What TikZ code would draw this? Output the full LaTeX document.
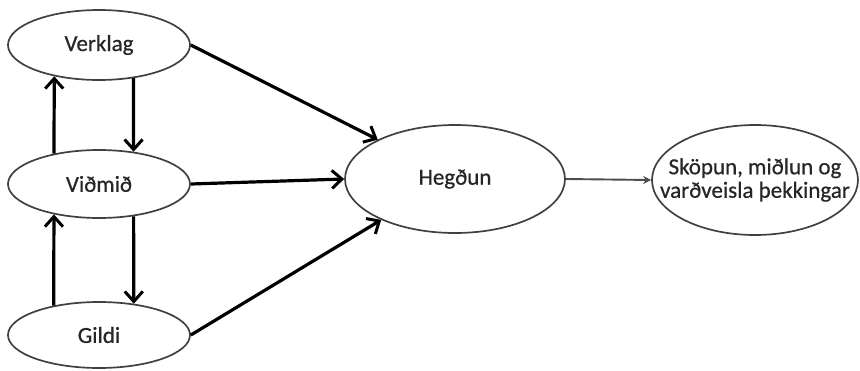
\documentclass[tikz,border=0pt]{standalone}
\usepackage{fontspec}
\setmainfont{Carlito}[FakeBold=0.6]
\usetikzlibrary{shapes.geometric,arrows.meta}

\begin{document}
\begin{tikzpicture}[x=1pt,y=-1pt,
  oval/.style={ellipse,draw=black!75,line width=1.7pt,inner sep=0pt,
    minimum width=2*#1,font=\fontsize{23}{23.5}\selectfont,text=black!85},
  flow/.style={line width=3.2pt,-{Straight Barb[length=10pt,width=18pt,line width=3pt]}},
  thinflow/.style={line width=1.9pt,draw=black!70,-{Stealth[length=8pt,width=8pt]}}]
  \useasboundingbox (0,0) rectangle (860,370);

  \node[oval=91pt,minimum height=70pt] (verklag) at (99,45) {Verklag};
  \node[oval=91pt,minimum height=68pt] (vidmid) at (99,184) {Viðmið};
  \node[oval=91pt,minimum height=66pt] (gildi) at (99,335) {Gildi};
  \node[oval=110pt,minimum height=108pt] (hegdun) at (455,179) {Hegðun};
  \node[oval=103pt,minimum height=110pt,align=center,inner xsep=-24pt] (skopun) at (755,180)
    {Sköpun, miðlun og\\varðveisla þekkingar};

  % links between the left column
  \draw[flow] (verklag.-44) -- (vidmid.43);
  \draw[flow] (vidmid.146) -- (verklag.-145);
  \draw[flow] (vidmid.-43) -- (gildi.42);
  \draw[flow] (gildi.147) -- (vidmid.-146);

  % into Hegðun
  \draw[flow] (verklag.east) -- (hegdun.153);
  \draw[flow] (vidmid.east) -- (hegdun.west);
  \draw[flow] (gildi.east) -- (hegdun.-151);

  \draw[thinflow] (hegdun.east) -- (skopun.west);
\end{tikzpicture}
\end{document}
